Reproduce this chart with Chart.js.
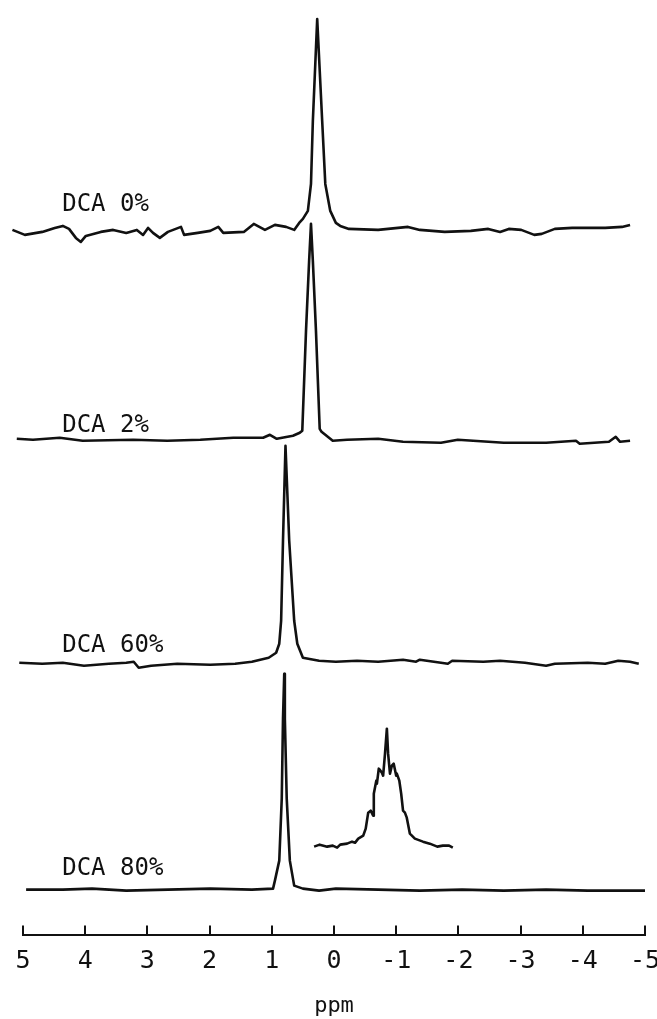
<!DOCTYPE html>
<html>
<head>
<meta charset="utf-8">
<script src="https://cdn.jsdelivr.net/npm/chart.js@4.4.1/dist/chart.umd.min.js"></script>
<style>
  html, body { margin: 0; padding: 0; background: #fff; }
  #wrap { width: 657px; height: 1019px; position: relative; }
</style>
</head>
<body>
<div id="wrap"><canvas id="nmr"></canvas></div>
<script>
// chemical shift (ppm) and intensity (a.u.)
const shift0 = [5.17, 4.97, 4.69, 4.49, 4.36, 4.26, 4.15, 4.07, 3.99, 3.75, 3.55, 3.34, 3.17, 3.07, 2.99, 2.91, 2.80, 2.67, 2.46, 2.41, 2.19, 1.99, 1.86, 1.78, 1.45, 1.29, 1.11, 0.95, 0.77, 0.64, 0.56, 0.50, 0.42, 0.37, 0.34, 0.27, 0.19, 0.14, 0.06, -0.03, -0.10, -0.24, -0.71, -1.19, -1.38, -1.78, -2.20, -2.48, -2.67, -2.81, -3.01, -3.22, -3.34, -3.55, -3.83, -4.08, -4.36, -4.63, -4.76];
const int0 = [-1, -6, -3, 1, 3, 0, -9, -13, -7, -3, -1, -4, -1, -6, 1, -4, -9, -3, 2, -6, -4, -2, 2, -4, -3, 5, -1, 4, 2, -1, 6, 10, 18, 45, 108, 210, 108, 45, 18, 6, 3, 0, -1, 2, -1, -3, -2, 0, -3, 0, -1, -6, -5, 0, 1, 1, 1, 2, 4];

const shift2 = [5.10, 4.84, 4.41, 4.04, 3.23, 2.68, 2.15, 1.62, 1.14, 1.03, 0.92, 0.66, 0.55, 0.51, 0.45, 0.40, 0.37, 0.34, 0.29, 0.23, 0.20, 0.02, -0.21, -0.71, -1.11, -1.72, -1.99, -2.73, -3.41, -3.89, -3.95, -4.42, -4.53, -4.60, -4.76];
const int2 = [0, -1, 1, -2, -1, -2, -1, 1, 1, 4, 0, 3, 6, 8, 108, 178, 215, 178, 108, 10, 7, -2, -1, 0, -3, -4, -1, -4, -4, -2, -5, -3, 2, -3, -2];

const shift60 = [5.06, 4.69, 4.36, 4.02, 3.62, 3.34, 3.22, 3.14, 2.94, 2.52, 1.99, 1.59, 1.32, 1.05, 0.93, 0.88, 0.85, 0.82, 0.78, 0.72, 0.64, 0.59, 0.50, 0.24, -0.03, -0.37, -0.71, -1.11, -1.32, -1.38, -1.72, -1.83, -1.90, -2.40, -2.67, -3.07, -3.41, -3.55, -4.08, -4.36, -4.57, -4.76, -4.90];
const int60 = [0, -1, 0, -3, -1, 0, 1, -5, -3, -1, -2, -1, 1, 5, 10, 19, 42, 122, 217, 122, 42, 19, 5, 2, 1, 2, 1, 3, 1, 3, 0, -1, 2, 1, 2, 0, -3, -1, 0, -1, 2, 1, -1];

const shift80 = [4.95, 4.36, 3.89, 3.34, 2.67, 1.99, 1.32, 0.98, 0.95, 0.88, 0.84, 0.82, 0.80, 0.79, 0.76, 0.71, 0.64, 0.50, 0.24, -0.03, -0.71, -1.38, -2.06, -2.73, -3.41, -4.08, -5.00];
const int80 = [-1, -1, 0, -2, -1, 0, -1, 0, 8, 28, 90, 170, 215, 170, 90, 28, 3, 0, -2, 0, -1, -2, -1, -2, -1, -2, -2];

// expanded inset of the DCA 80% line
const shiftInset = [0.32, 0.23, 0.11, 0.02, -0.05, -0.10, -0.21, -0.29, -0.34, -0.39, -0.47, -0.51, -0.55, -0.59, -0.63, -0.64, -0.68, -0.69, -0.72, -0.77, -0.79, -0.82, -0.85, -0.87, -0.90, -0.93, -0.96, -1.00, -1.01, -1.05, -1.08, -1.11, -1.14, -1.17, -1.22, -1.30, -1.43, -1.54, -1.66, -1.75, -1.85, -1.91];
const intInset = [1, 3, 1, 2, 0, 3, 4, 6, 5, 9, 12, 19, 35, 37, 32, 54, 67, 64, 79, 75, 72, 94, 119, 94, 74, 82, 84, 72, 74, 67, 54, 37, 35, 30, 14, 9, 6, 4, 1, 2, 2, 0];

const traceNames = ['DCA 0%', 'DCA 2%', 'DCA 60%', 'DCA 80%'];
const ppmTicks = [5, 4, 3, 2, 1, 0, -1, -2, -3, -4, -5];

// vertical stacking of the spectra
const stackOffset = [706, 496, 272, 46];
const insetOffset = 87;
const nameGap = [18, 7, 11, 14];

function trace(xs, ys, offset) {
  return xs.map((x, i) => ({ x: x, y: ys[i] + offset }));
}

const lineStyle = {
  showLine: true,
  borderColor: '#111',
  borderWidth: 2.6,
  pointRadius: 0,
  tension: 0,
  clip: false,
  borderJoinStyle: 'round'
};

const datasets = [
  Object.assign({ label: traceNames[0], data: trace(shift0, int0, stackOffset[0]) }, lineStyle),
  Object.assign({ label: traceNames[1], data: trace(shift2, int2, stackOffset[1]) }, lineStyle),
  Object.assign({ label: traceNames[2], data: trace(shift60, int60, stackOffset[2]) }, lineStyle),
  Object.assign({ label: traceNames[3], data: trace(shift80, int80, stackOffset[3]) }, lineStyle),
  Object.assign({ label: 'inset', data: trace(shiftInset, intInset, insetOffset) }, lineStyle)
];

const FONT = "'DejaVu Sans Mono', 'Liberation Mono', monospace";

// upward tick marks on the ppm axis and the sample names
const decorations = {
  id: 'decorations',
  afterDraw(chart) {
    const ctx = chart.ctx;
    const xs = chart.scales.x;
    const ys = chart.scales.y;
    ctx.save();
    ctx.strokeStyle = '#111';
    ctx.lineWidth = 2;
    xs.ticks.forEach(t => {
      const px = Math.round(xs.getPixelForValue(t.value));
      ctx.beginPath();
      ctx.moveTo(px, xs.top + 1);
      ctx.lineTo(px, xs.top - 9);
      ctx.stroke();
    });
    ctx.fillStyle = '#111';
    ctx.font = '24px ' + FONT;
    ctx.textAlign = 'left';
    ctx.textBaseline = 'alphabetic';
    traceNames.forEach((name, i) => {
      ctx.fillText(name, xs.getPixelForValue(4.37), ys.getPixelForValue(stackOffset[i] + nameGap[i]));
    });
    ctx.restore();
  }
};

new Chart(document.getElementById('nmr'), {
  type: 'scatter',
  data: { datasets: datasets },
  options: {
    responsive: true,
    maintainAspectRatio: false,
    animation: false,
    layout: { padding: { left: 23, right: 12, top: 0, bottom: 0 } },
    plugins: {
      legend: { display: false },
      tooltip: { enabled: false }
    },
    scales: {
      x: {
        type: 'linear',
        reverse: true,
        min: -5,
        max: 5,
        afterBuildTicks(scale) {
          scale.ticks = ppmTicks.map(v => ({ value: v }));
        },
        afterFit(scale) {
          scale.paddingLeft = 0;
          scale.paddingRight = 0;
        },
        grid: { display: false, drawTicks: false },
        border: { display: true, color: '#111', width: 2 },
        ticks: {
          autoSkip: false,
          maxRotation: 0,
          padding: 12,
          color: '#111',
          font: { family: FONT, size: 25 },
          callback: v => String(v)
        },
        title: {
          display: true,
          text: 'ppm',
          color: '#111',
          font: { family: FONT, size: 22 },
          padding: { top: 4, bottom: 0 }
        }
      },
      y: {
        display: false,
        min: 0,
        max: 935
      }
    }
  },
  plugins: [decorations]
});
</script>
</body>
</html>
